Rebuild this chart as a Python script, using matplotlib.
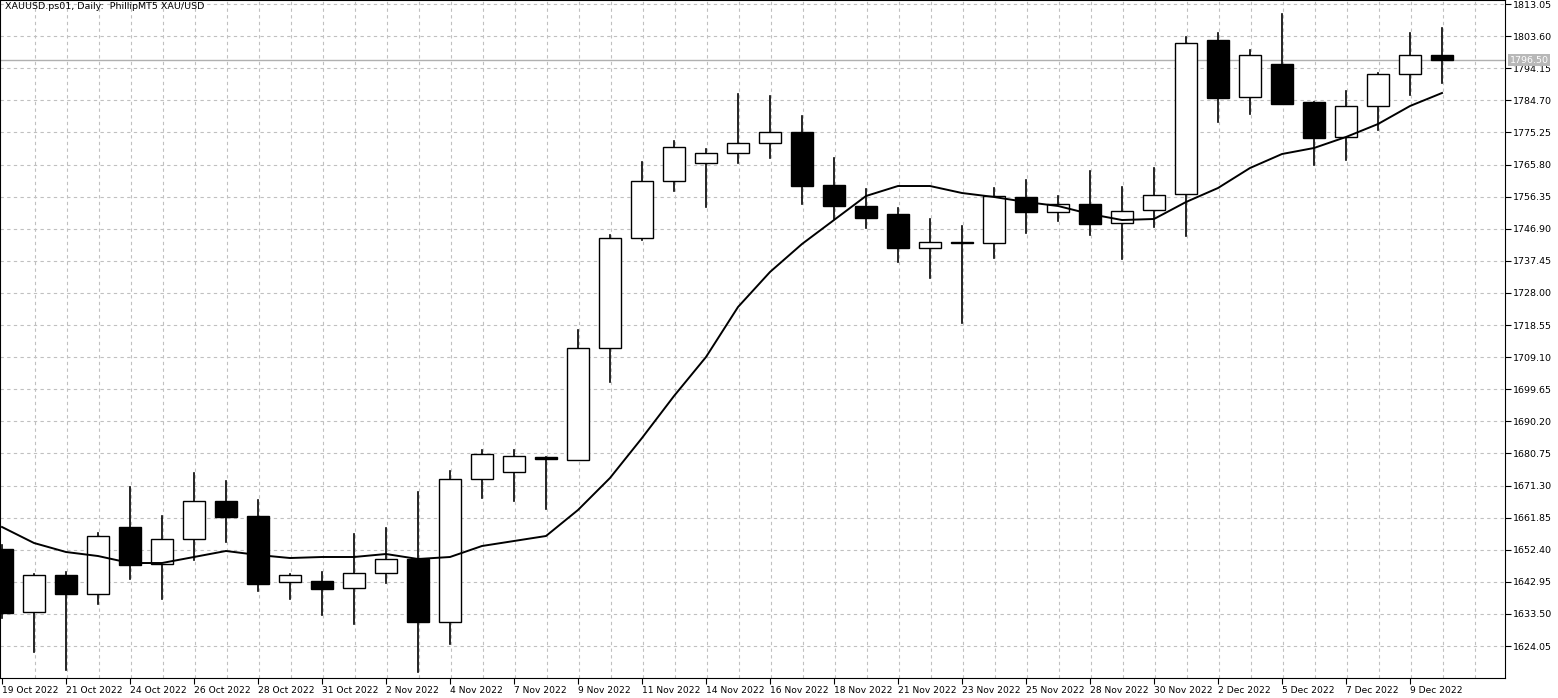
import numpy as np
import matplotlib
matplotlib.use('Agg')
import matplotlib.pyplot as plt
from matplotlib.patches import Rectangle

plt.rcParams['font.family'] = ['DejaVu Sans']

# ── 데이터 (XAUUSD 일봉, 차트에서 읽은 값) ──────────────────────────
# 픽셀 y → 가격 환산: price = 1813.05 - (y - 4) / 3.397
def px(y):
    return round(1813.05 - (y - 4) / 3.397, 2)

open_px  = [549, 612, 575, 594, 527, 564, 539, 501, 516, 582, 581, 588, 573, 559, 622, 479,
            472, 457, 460, 348, 238, 181, 163, 153, 143, 132, 185, 206, 214, 248, 242, 243,
            197, 212, 204, 223, 210, 194, 40, 97, 64, 102, 137, 106, 74, 55]
high_px  = [545, 574, 572, 533, 487, 516, 473, 481, 500, 574, 572, 534, 528, 492, 471, 450,
            450, 457, 330, 235, 162, 141, 149, 94, 96, 116, 158, 189, 208, 219, 226, 188,
            180, 196, 171, 187, 168, 37, 33, 50, 14, 102, 91, 73, 33, 28]
low_px   = [618, 652, 670, 604, 579, 599, 560, 542, 591, 599, 615, 624, 583, 672, 644, 498,
            501, 509, 460, 382, 240, 191, 207, 163, 158, 204, 219, 228, 262, 278, 323, 258,
            233, 221, 235, 259, 227, 236, 122, 114, 104, 165, 160, 130, 95, 83]
close_px = [613, 575, 594, 536, 565, 539, 501, 517, 584, 575, 589, 573, 559, 622, 479, 454,
            456, 459, 348, 238, 181, 147, 153, 143, 132, 186, 206, 218, 248, 242, 243, 196,
            212, 204, 224, 211, 195, 43, 98, 55, 104, 138, 106, 74, 55, 60]
ma_px    = [527, 543, 552, 556, 563, 563, 557, 551, 555, 558, 557, 557, 554, 559, 557, 546,
            541, 536, 510, 478, 438, 396, 357, 307, 272, 244, 220, 196, 186, 186, 193, 197,
            202, 206, 214, 220, 219, 202, 188, 168, 154, 148, 137, 124, 106, 93]

opens  = [px(v) for v in open_px]
highs  = [px(v) for v in high_px]
lows   = [px(v) for v in low_px]
closes = [px(v) for v in close_px]
ma     = [px(v) for v in ma_px]

date_labels = ['19 Oct 2022', '21 Oct 2022', '24 Oct 2022', '26 Oct 2022', '28 Oct 2022',
               '31 Oct 2022', '2 Nov 2022', '4 Nov 2022', '7 Nov 2022', '9 Nov 2022',
               '11 Nov 2022', '14 Nov 2022', '16 Nov 2022', '18 Nov 2022', '21 Nov 2022',
               '23 Nov 2022', '25 Nov 2022', '28 Nov 2022', '30 Nov 2022', '2 Dec 2022',
               '5 Dec 2022', '7 Dec 2022', '9 Dec 2022']
price_ticks = [1813.05 - 9.45 * k for k in range(21)]
last_price = 1796.50

# ── 그림 ────────────────────────────────────────────────────────────
W, H = 1558, 698
fig = plt.figure(figsize=(W / 100, H / 100), dpi=100)
ax = fig.add_axes([0, 20 / H, 1505 / W, 678 / H])

n = len(opens)
ax.set_xlim(-2 / 32, (1505 - 2) / 32)
ax.set_ylim(1813.05 - 674 / 3.397, 1813.05 + 4 / 3.397)

ax.set_yticks(price_ticks)
ax.yaxis.tick_right()
ax.set_yticklabels([f'{v:.2f}' for v in price_ticks], fontsize=6.8)
ax.set_xticks(range(0, n, 2))
ax.set_xticklabels(date_labels, fontsize=6.6, ha='left')
ax.tick_params(axis='both', length=4, width=0.8, pad=2, color='black')

ax.grid(False)
for v in price_ticks:
    ax.axhline(v, color='#c0c0c0', lw=0.8, ls=(0, (3, 3)), zorder=0)
for i in range(1, n + 1):
    ax.axvline(i + 1 / 32, color='#c0c0c0', lw=0.8, ls=(0, (3, 3)), zorder=0)

w = 0.68
for i in range(n):
    o, h, l, c = opens[i], highs[i], lows[i], closes[i]
    ax.plot([i, i], [l, h], color='black', lw=1.2, zorder=2)
    bottom = min(o, c)
    height = max(abs(c - o), 0.35)
    face = 'white' if c >= o else 'black'
    ax.add_patch(Rectangle((i - w / 2, bottom), w, height, facecolor=face,
                           edgecolor='black', lw=1.0, zorder=3))

ax.plot(range(n), ma, color='black', lw=1.4, zorder=4)

ax.axhline(last_price, color='#b0b0b0', lw=1.0, zorder=1)
ax.text(1.003, last_price, f'{last_price:.2f}', transform=ax.get_yaxis_transform(),
        fontsize=6.8, color='white', va='center', ha='left',
        bbox=dict(boxstyle='square,pad=0.15', fc='#b8b8b8', ec='none'))

ax.text(0.003, 0.997, 'XAUUSD.ps01, Daily:  PhillipMT5 XAU/USD', transform=ax.transAxes,
        fontsize=6.8, va='top', ha='left')

for s in ax.spines.values():
    s.set_color('black')
    s.set_linewidth(0.8)

fig.savefig('out.png', dpi=100)
